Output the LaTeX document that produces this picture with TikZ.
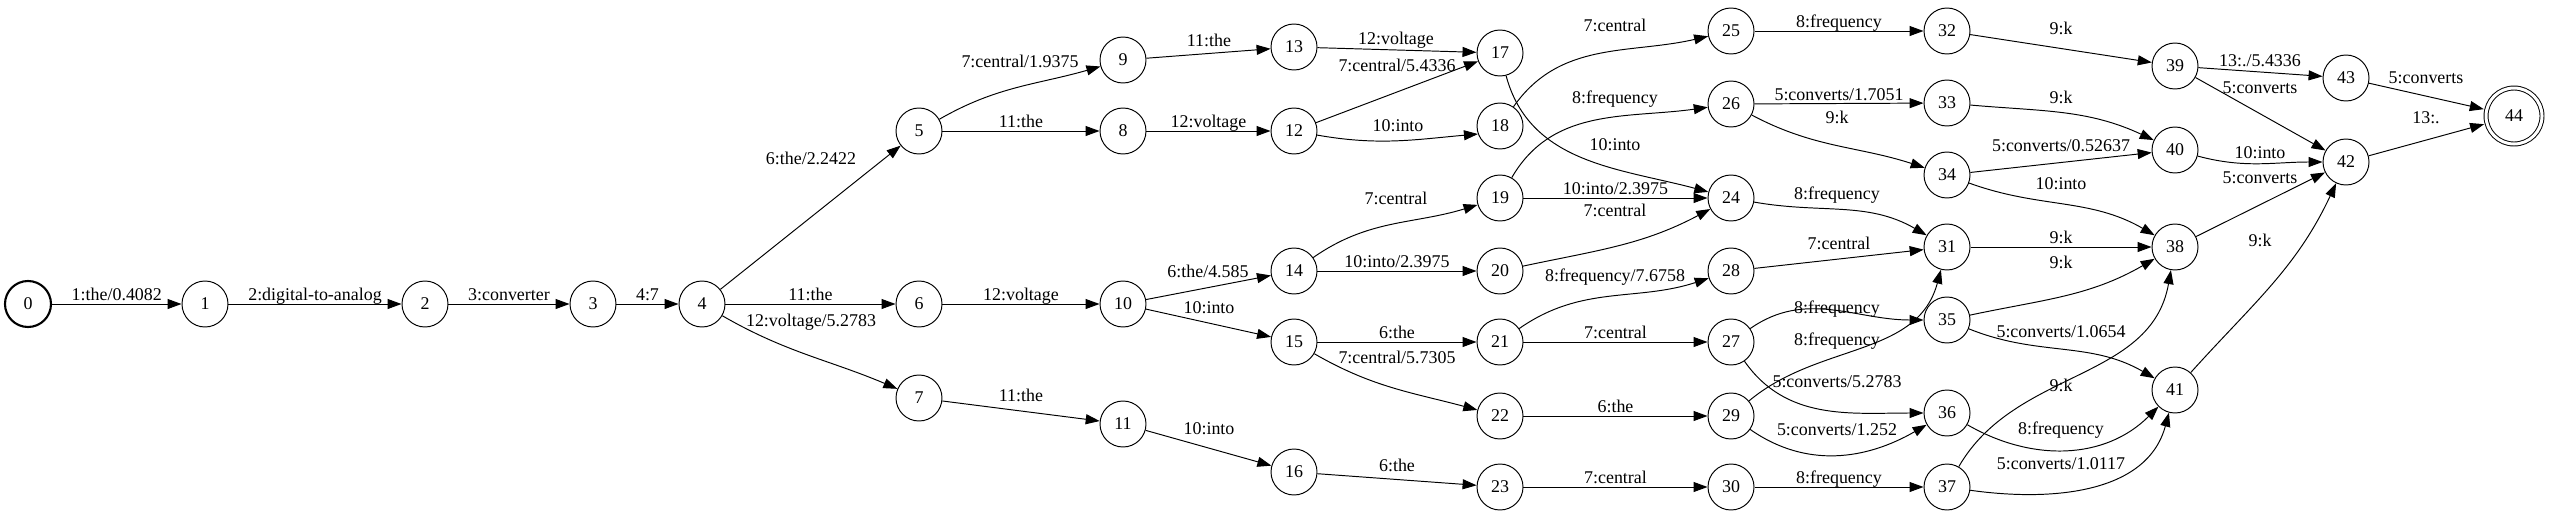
\documentclass[tikz,border=0pt]{standalone}
\usepackage{fontspec}
\setmainfont{Liberation Serif}
\usetikzlibrary{arrows.meta}

\begin{document}
\begin{tikzpicture}[
        x=0.2mm, y=0.2mm,
        font=\fontsize{10.2pt}{12pt}\selectfont,
        estado/.style={circle, draw, line width=0.55pt, minimum size=9.2mm, inner sep=0pt},
        inicial/.style={estado, line width=1.2pt},
        final/.style={estado, double, double distance=0.6mm, minimum size=11.2mm, outer sep=0.6mm},
        etiqueta/.style={inner sep=1.5pt, text depth=0pt},
        flecha/.style={-{Triangle[length=2.8mm, width=2mm]}, line width=0.55pt}
    ]
        \useasboundingbox (0,0) rectangle (2550,-517);

        \node[inicial] (s0) at (28,-304) {0};
        \node[estado] (s1) at (205,-304) {1};
        \node[estado] (s2) at (425,-304) {2};
        \node[estado] (s3) at (593,-304) {3};
        \node[estado] (s4) at (702,-304) {4};
        \node[estado] (s5) at (919,-131) {5};
        \node[estado] (s6) at (919,-304) {6};
        \node[estado] (s7) at (919,-398) {7};
        \node[estado] (s9) at (1123,-60) {9};
        \node[estado] (s8) at (1123,-131) {8};
        \node[estado] (s10) at (1123,-304) {10};
        \node[estado] (s11) at (1123,-424) {11};
        \node[estado] (s13) at (1294,-47) {13};
        \node[estado] (s12) at (1294,-131) {12};
        \node[estado] (s14) at (1294,-271) {14};
        \node[estado] (s15) at (1294,-342) {15};
        \node[estado] (s16) at (1294,-472) {16};
        \node[estado] (s17) at (1500,-53) {17};
        \node[estado] (s18) at (1500,-126) {18};
        \node[estado] (s19) at (1500,-198) {19};
        \node[estado] (s20) at (1500,-271) {20};
        \node[estado] (s21) at (1500,-342) {21};
        \node[estado] (s22) at (1500,-416) {22};
        \node[estado] (s23) at (1500,-487) {23};
        \node[estado] (s25) at (1731,-31) {25};
        \node[estado] (s26) at (1731,-104) {26};
        \node[estado] (s24) at (1731,-198) {24};
        \node[estado] (s28) at (1731,-271) {28};
        \node[estado] (s27) at (1731,-342) {27};
        \node[estado] (s29) at (1731,-416) {29};
        \node[estado] (s30) at (1731,-487) {30};
        \node[estado] (s32) at (1947,-31) {32};
        \node[estado] (s33) at (1947,-103) {33};
        \node[estado] (s34) at (1947,-175) {34};
        \node[estado] (s31) at (1947,-247) {31};
        \node[estado] (s35) at (1947,-320) {35};
        \node[estado] (s36) at (1947,-413) {36};
        \node[estado] (s37) at (1947,-487) {37};
        \node[estado] (s39) at (2175,-66) {39};
        \node[estado] (s40) at (2175,-150) {40};
        \node[estado] (s38) at (2175,-247) {38};
        \node[estado] (s41) at (2175,-390) {41};
        \node[estado] (s43) at (2346,-78) {43};
        \node[estado] (s42) at (2346,-162) {42};
        \node[final] (s44) at (2514,-116) {44};

        \draw[flecha] (s0) -- node[etiqueta, above] {1:the/0.4082} (s1);
        \draw[flecha] (s1) -- node[etiqueta, above] {2:digital-to-analog} (s2);
        \draw[flecha] (s2) -- node[etiqueta, above] {3:converter} (s3);
        \draw[flecha] (s3) -- node[etiqueta, above] {4:7} (s4);
        \draw[flecha] (s4) -- (s5) node[etiqueta] at (811,-158) {6:the/2.2422};
        \draw[flecha] (s4) -- node[etiqueta, above] {11:the} (s6);
        \draw[flecha] (s4) to[out=-30,in=157] (s7) node[etiqueta] at (811,-320) {12:voltage/5.2783};
        \draw[flecha] (s5) to[out=30,in=196] (s9) node[etiqueta] at (1020,-61) {7:central/1.9375};
        \draw[flecha] (s5) -- node[etiqueta, above] {11:the} (s8);
        \draw[flecha] (s6) -- node[etiqueta, above] {12:voltage} (s10);
        \draw[flecha] (s7) -- (s11) node[etiqueta] at (1021,-395) {11:the};
        \draw[flecha] (s9) -- (s13) node[etiqueta] at (1209,-40) {11:the};
        \draw[flecha] (s8) -- node[etiqueta, above] {12:voltage} (s12);
        \draw[flecha] (s10) -- (s14) node[etiqueta] at (1208,-271) {6:the/4.585};
        \draw[flecha] (s10) -- (s15) node[etiqueta] at (1209,-308) {10:into};
        \draw[flecha] (s11) -- (s16) node[etiqueta] at (1209,-429) {10:into};
        \draw[flecha] (s13) -- (s17) node[etiqueta] at (1396,-38) {12:voltage};
        \draw[flecha] (s12) -- (s17) node[etiqueta] at (1397,-65) {7:central/5.4336};
        \draw[flecha] (s12) to[out=-10,in=185] (s18.200) node[etiqueta] at (1398,-126) {10:into};
        \draw[flecha] (s14) to[out=35,in=197] (s19) node[etiqueta] at (1396,-198) {7:central};
        \draw[flecha] (s14) -- node[etiqueta, above] {10:into/2.3975} (s20);
        \draw[flecha] (s15) -- node[etiqueta, above] {6:the} (s21);
        \draw[flecha] (s15) to[out=-30,in=165] (s22) node[etiqueta] at (1397,-357) {7:central/5.7305};
        \draw[flecha] (s16) -- (s23) node[etiqueta] at (1397,-465) {6:the};
        \draw[flecha] (s17) to[out=-75,in=165] (s24) node[etiqueta] at (1615,-145) {10:into};
        \draw[flecha] (s18) to[out=55,in=193] (s25) node[etiqueta] at (1615,-25) {7:central};
        \draw[flecha] (s19) to[out=60,in=188] (s26) node[etiqueta] at (1615,-97) {8:frequency};
        \draw[flecha] (s19) -- node[etiqueta, above] {10:into/2.3975} (s24);
        \draw[flecha] (s20) to[out=12,in=208] (s24) node[etiqueta] at (1615,-210) {7:central};
        \draw[flecha] (s21) to[out=35,in=198] (s28) node[etiqueta] at (1615,-275) {8:frequency/7.6758};
        \draw[flecha] (s21) -- node[etiqueta, above] {7:central} (s27);
        \draw[flecha] (s22) -- node[etiqueta, above] {6:the} (s29);
        \draw[flecha] (s23) -- node[etiqueta, above] {7:central} (s30);
        \draw[flecha] (s24) to[out=-10,in=150] (s31) node[etiqueta] at (1837,-193) {8:frequency};
        \draw[flecha] (s25) -- node[etiqueta, above] {8:frequency} (s32);
        \draw[flecha] (s26) -- node[etiqueta, above] {5:converts/1.7051} (s33);
        \draw[flecha] (s26) to[out=-28,in=162] (s34) node[etiqueta] at (1837,-117) {9:k};
        \draw[flecha] (s28) -- (s31) node[etiqueta] at (1839,-243) {7:central};
        \draw[flecha] (s27) to[out=35,in=180] (s35) node[etiqueta] at (1837,-307) {8:frequency};
        \draw[flecha] (s29) to[out=40,in=-105] (s31) node[etiqueta] at (1837,-339) {8:frequency};
        \draw[flecha] (s27) to[out=-55,in=180] (s36) node[etiqueta] at (1837,-382) {5:converts/5.2783};
        \draw[flecha] (s29) to[out=-35,in=210] (s36) node[etiqueta] at (1837,-430) {5:converts/1.252};
        \draw[flecha] (s30) -- node[etiqueta, above] {8:frequency} (s37);
        \draw[flecha] (s32) -- (s39) node[etiqueta] at (2061,-28) {9:k};
        \draw[flecha] (s33) to[out=-5,in=155] (s40) node[etiqueta] at (2061,-97) {9:k};
        \draw[flecha] (s34) -- (s40) node[etiqueta] at (2061,-146) {5:converts/0.52637};
        \draw[flecha] (s34) to[out=-20,in=150] (s38) node[etiqueta] at (2061,-184) {10:into};
        \draw[flecha] (s31) -- node[etiqueta, above] {9:k} (s38);
        \draw[flecha] (s35) to[out=12,in=210] (s38) node[etiqueta] at (2061,-262) {9:k};
        \draw[flecha] (s35) to[out=-22,in=150] (s41) node[etiqueta] at (2061,-332) {5:converts/1.0654};
        \draw[flecha] (s37) to[out=60,in=-100] (s38) node[etiqueta] at (2061,-385) {9:k};
        \draw[flecha] (s36) to[out=-30,in=225] (s41) node[etiqueta] at (2061,-428) {8:frequency};
        \draw[flecha] (s37) to[out=-8,in=-105] (s41) node[etiqueta] at (2061,-464) {5:converts/1.0117};
        \draw[flecha] (s39) -- (s43) node[etiqueta] at (2260,-61) {13:./5.4336};
        \draw[flecha] (s39) -- (s42) node[etiqueta] at (2260,-88) {5:converts};
        \draw[flecha] (s40) to[out=-15,in=180] (s42) node[etiqueta] at (2260,-153) {10:into};
        \draw[flecha] (s38) -- (s42) node[etiqueta] at (2260,-178) {5:converts};
        \draw[flecha] (s41) to[out=48,in=-115] (s42) node[etiqueta] at (2260,-240) {9:k};
        \draw[flecha] (s43) -- (s44) node[etiqueta] at (2426,-78) {5:converts};
        \draw[flecha] (s42) -- (s44) node[etiqueta] at (2426,-118) {13:.};
    \end{tikzpicture}
\end{document}
